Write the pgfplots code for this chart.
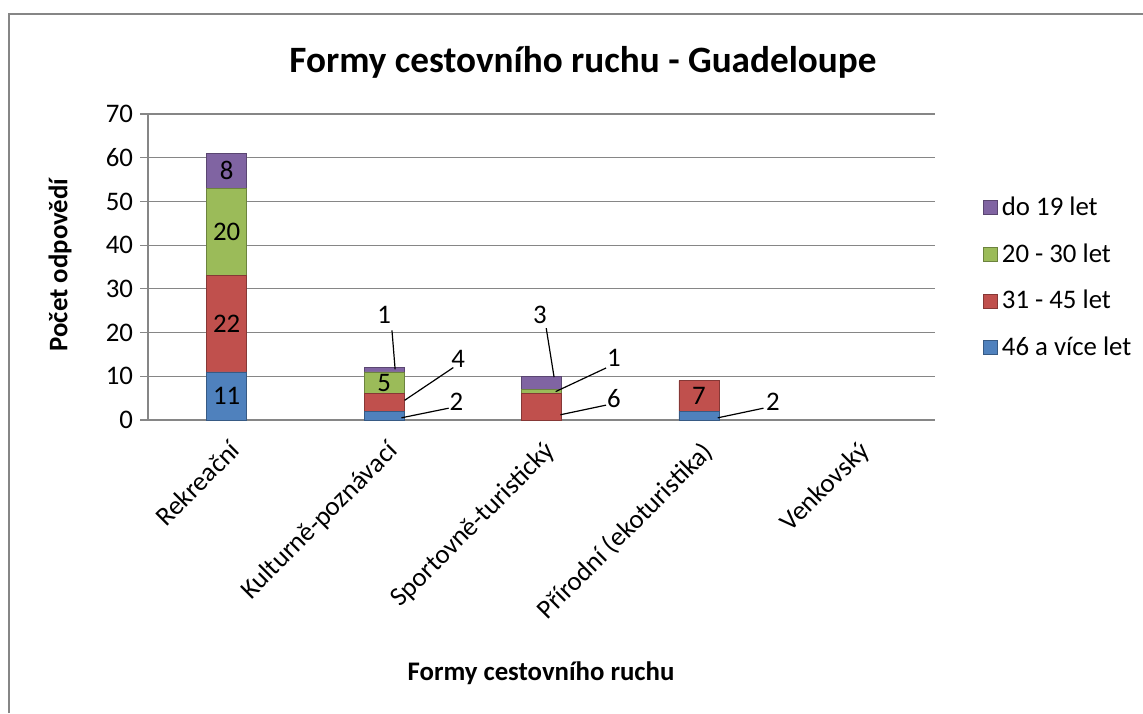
\documentclass[border=0pt]{standalone}
\usepackage{fontspec}
\setmainfont{Carlito}
\usepackage{pgfplots}
\pgfplotsset{compat=1.18}
\definecolor{cblue}{HTML}{4F81BD}
\definecolor{cred}{HTML}{C0504D}
\definecolor{cgreen}{HTML}{9BBB59}
\definecolor{cpurple}{HTML}{8064A2}
\definecolor{gridc}{HTML}{868686}
\newcommand{\sz}{\fontsize{13.4}{16}\selectfont}
\begin{document}
\begin{tikzpicture}
\path[use as bounding box] (0pt,0pt) rectangle (571.5pt,356.5pt);
\draw[gridc, line width=1pt] (4.25pt,0pt) -- (4.25pt,349.25pt) -- (571.5pt,349.25pt);
\node[font=\fontsize{18.6}{22}\selectfont\bfseries] at (291.5pt,325.5pt) {Formy cestovního ruchu - Guadeloupe};
\node[font=\sz\bfseries, rotate=90] at (30pt,224pt) {Počet odpovědí};
\node[font=\sz\bfseries] at (270.5pt,20pt) {Formy cestovního ruchu};
\begin{axis}[
  at={(74pt,146.5pt)}, anchor=south west,
  scale only axis, width=393.5pt, height=153pt,
  ybar stacked, bar width=20pt,
  xmin=-0.5, xmax=4.5, ymin=0, ymax=70,
  xtick={0,1,2,3,4},
  xticklabels={Rekreační,Kulturně-poznávací,Sportovně-turistický,Přírodní (ekoturistika),Venkovský},
  xticklabel style={rotate=45, anchor=north east, font=\sz, xshift=0pt, yshift=-1pt},
  ytick={0,10,...,70},
  yticklabel style={font=\sz},
  /pgf/number format/assume math mode=true,
  ymajorgrids, grid style={gridc, line width=0.6pt},
  axis x line*=bottom, axis y line*=left,
  axis line style={gridc, line width=0.6pt, -},
  xtick style={draw=none},
  ytick style={gridc, line width=0.6pt},
  tick align=outside, major tick length=4pt,
  legend style={at={(1.053,0.756)}, anchor=north west, draw=none, fill=none,
    font=\sz, row sep=8.5pt, cells={anchor=west}},
  legend cell align=left,
  legend image code/.code={\draw[#1] (0pt,-3.5pt) rectangle (7pt,3.5pt);},
  clip=false,
]
\addplot[fill=cblue, draw=cblue!70!black, forget plot] coordinates {(0,11) (1,2) (2,0) (3,2) (4,0)};
\addplot[fill=cred, draw=cred!70!black, forget plot] coordinates {(0,22) (1,4) (2,6) (3,7) (4,0)};
\addplot[fill=cgreen, draw=cgreen!70!black, forget plot] coordinates {(0,20) (1,5) (2,1) (3,0) (4,0)};
\addplot[fill=cpurple, draw=cpurple!70!black, forget plot] coordinates {(0,8) (1,1) (2,3) (3,0) (4,0)};
\addlegendimage{fill=cpurple, draw=cpurple!70!black}
\addlegendentry{do 19 let}
\addlegendimage{fill=cgreen, draw=cgreen!70!black}
\addlegendentry{20 - 30 let}
\addlegendimage{fill=cred, draw=cred!70!black}
\addlegendentry{31 - 45 let}
\addlegendimage{fill=cblue, draw=cblue!70!black}
\addlegendentry{46 a více let}
\coordinate (i1) at (axis cs:0,5.5);
\coordinate (i2) at (axis cs:0,22);
\coordinate (i3) at (axis cs:0,43);
\coordinate (i4) at (axis cs:0,57);
\coordinate (i5) at (axis cs:1,8.5);
\coordinate (i6) at (axis cs:3,5.5);
\coordinate (k1) at (axis cs:1.0,24);
\coordinate (k1a) at (axis cs:1.05,20.5);
\coordinate (k1b) at (axis cs:1.07,11.6);
\coordinate (k2) at (axis cs:1.47,14);
\coordinate (k2a) at (axis cs:1.44,12);
\coordinate (k2b) at (axis cs:1.13,4.5);
\coordinate (k3) at (axis cs:1.46,4.2);
\coordinate (k3a) at (axis cs:1.41,2.7);
\coordinate (k3b) at (axis cs:1.11,0.5);
\coordinate (s1) at (axis cs:1.99,24);
\coordinate (s1a) at (axis cs:2.03,21);
\coordinate (s1b) at (axis cs:2.08,9.8);
\coordinate (s2) at (axis cs:2.46,14.2);
\coordinate (s2a) at (axis cs:2.41,11.9);
\coordinate (s2b) at (axis cs:2.09,6.5);
\coordinate (s3) at (axis cs:2.46,5);
\coordinate (s3a) at (axis cs:2.41,3.4);
\coordinate (s3b) at (axis cs:2.12,1.2);
\coordinate (p1) at (axis cs:3.47,4.2);
\coordinate (p1a) at (axis cs:3.41,2.7);
\coordinate (p1b) at (axis cs:3.12,0.5);
\end{axis}
\begin{scope}[every node/.style={font=\sz}]
\node at (i1) {11};
\node at (i2) {22};
\node at (i3) {20};
\node at (i4) {8};
\node at (i5) {5};
\node at (i6) {7};
\node at (k1) {1};
\node at (k2) {4};
\node at (k3) {2};
\node at (s1) {3};
\node at (s2) {1};
\node at (s3) {6};
\node at (p1) {2};
\draw[black, line width=0.6pt] (k1a) -- (k1b) (k2a) -- (k2b) (k3a) -- (k3b)
  (s1a) -- (s1b) (s2a) -- (s2b) (s3a) -- (s3b) (p1a) -- (p1b);
\end{scope}
\end{tikzpicture}
\end{document}
